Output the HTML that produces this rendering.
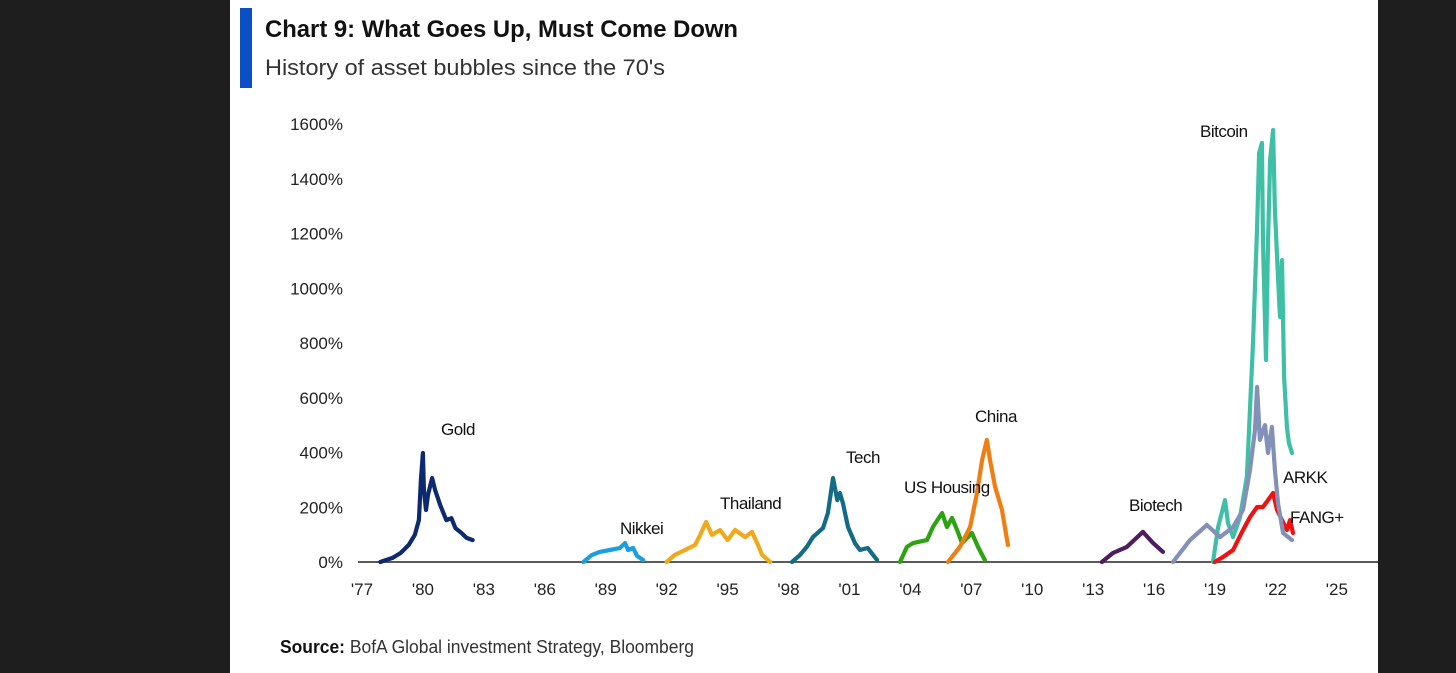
<!DOCTYPE html>
<html><head><meta charset="utf-8"><style>
html,body{margin:0;padding:0;background:#1e1e1e;width:1456px;height:673px;overflow:hidden}
#panel{position:absolute;left:230px;top:0;width:1148px;height:673px;background:#fff}
svg{position:absolute;left:0;top:0}
</style></head><body>
<div id="panel"></div>
<svg id="chart" width="1456" height="673">
<rect x="240" y="8" width="12" height="80" fill="#0a4fc4"/>
<text x="265" y="37" font-family="Liberation Sans, sans-serif" font-weight="bold" font-size="24" textLength="473" lengthAdjust="spacingAndGlyphs" fill="#111">Chart 9: What Goes Up, Must Come Down</text>
<text x="265" y="75" font-family="Liberation Sans, sans-serif" font-size="22" textLength="400" lengthAdjust="spacingAndGlyphs" fill="#333">History of asset bubbles since the 70's</text>
<text x="280" y="653" font-family="Liberation Sans, sans-serif" font-size="18" fill="#333" textLength="414" lengthAdjust="spacingAndGlyphs"><tspan font-weight="bold" fill="#111">Source:</tspan> BofA Global investment Strategy, Bloomberg</text>
<g id="axes"></g>
<g id="series"></g>
<g id="labels"></g>
</svg>
<script>
const yTicks=[0,200,400,600,800,1000,1200,1400,1600];
const xTicks=[1977,1980,1983,1986,1989,1992,1995,1998,2001,2004,2007,2010,2013,2016,2019,2022,2025];
const goldYears=[1977.9,1978.5,1978.9,1979.3,1979.6,1979.8,1979.9,1980.0,1980.05,1980.15,1980.25,1980.45,1980.6,1980.85,1981.15,1981.4,1981.6,1981.9,1982.15,1982.45];
const goldVals=[0,15,33,62,99,153,300,398,263,190,245,307,263,208,153,160,124,106,88,80];
const nikkeiYears=[1987.9,1988.3,1988.7,1989.2,1989.7,1989.95,1990.1,1990.35,1990.55,1990.85];
const nikkeiVals=[0,25,37,44,51,69,44,51,22,7];
const thaiYears=[1992.0,1992.4,1992.9,1993.4,1993.65,1993.94,1994.23,1994.63,1995.0,1995.37,1995.86,1996.2,1996.5,1996.7,1997.1];
const thaiVals=[0,26,44,62,99,146,99,117,80,117,91,110,62,26,0];
const techYears=[1998.17,1998.57,1998.9,1999.2,1999.7,1999.94,2000.19,2000.4,2000.53,2000.68,2000.93,2001.27,2001.52,2001.9,2002.36];
const techVals=[0,26,55,91,124,179,307,226,252,215,128,69,44,51,7];
const housingYears=[2003.49,2003.83,2004.13,2004.82,2005.11,2005.56,2005.8,2006.05,2006.3,2006.54,2007.03,2007.33,2007.67];
const housingVals=[0,55,69,80,128,179,128,161,117,69,106,55,7];
const chinaYears=[2005.85,2006.44,2006.94,2007.28,2007.53,2007.77,2007.92,2008.17,2008.51,2008.8];
const chinaVals=[0,55,128,252,373,446,373,274,190,62];
const biotechYears=[2013.43,2013.97,2014.66,2015.45,2015.95,2016.44];
const biotechVals=[0,33,55,110,69,37];
const arkkYears=[2016.93,2017.77,2018.6,2019.25,2019.89,2020.38,2020.72,2020.97,2021.07,2021.21,2021.46,2021.61,2021.8,2021.95,2022.1,2022.35,2022.79];
const arkkVals=[0,80,135,91,128,190,336,482,639,446,500,398,493,336,215,106,80];
const btcYears=[2018.9,2019.15,2019.49,2019.64,2019.89,2020.23,2020.57,2020.87,2021.07,2021.17,2021.31,2021.36,2021.51,2021.61,2021.71,2021.86,2021.95,2022.1,2022.2,2022.3,2022.4,2022.54,2022.64,2022.79];
const btcVals=[0,128,226,142,91,164,311,800,1224,1494,1531,1165,738,1165,1468,1578,1286,1041,895,1103,676,493,435,398];
const fangYears=[2018.99,2019.39,2019.89,2020.38,2020.72,2021.07,2021.36,2021.61,2021.86,2022.05,2022.3,2022.54,2022.69,2022.84];
const fangVals=[0,18,44,117,164,201,201,226,252,190,153,117,153,106];

const NS='http://www.w3.org/2000/svg';
function xS(yr){return 362+(yr-1977)*20.31;}
function yS(v){return 562-v*0.27375;}
function mk(tag,attrs,parent){const e=document.createElementNS(NS,tag);for(const k in attrs)e.setAttribute(k,attrs[k]);parent.appendChild(e);return e;}
const axes=document.getElementById('axes'),ser=document.getElementById('series'),lab=document.getElementById('labels');
const F='Liberation Sans, Arial, sans-serif';
yTicks.forEach(v=>{
  const t=mk('text',{x:343,y:yS(v)+6,'text-anchor':'end','font-family':F,'font-size':17,fill:'#222'},axes);
  t.textContent=v+'%';
  
  
});
xTicks.forEach(yr=>{
  const t=mk('text',{x:xS(yr),y:595,'text-anchor':'middle','font-family':F,'font-size':17,fill:'#222'},axes);
  t.textContent="'"+String(yr).slice(2);
  
  
});
const base=mk('line',{x1:358,x2:1378,y1:562,y2:562,stroke:'#5a5a5a','stroke-width':2},axes);


const series=[
 ['gold',goldYears,goldVals,'#0d2a6e'],
 ['nikkei',nikkeiYears,nikkeiVals,'#1aa0e0'],
 ['thailand',thaiYears,thaiVals,'#f0a91a'],
 ['tech',techYears,techVals,'#136b86'],
 ['us-housing',housingYears,housingVals,'#2ea312'],
 ['china',chinaYears,chinaVals,'#f07e13'],
 ['biotech',biotechYears,biotechVals,'#4d1d5e'],
 ['bitcoin',btcYears,btcVals,'#3fc0a6'],
 ['fang',fangYears,fangVals,'#f01212'],
 ['arkk',arkkYears,arkkVals,'#8390b8']
];
series.forEach(s=>{
  const d=s[1].map((yr,i)=>(i?'L':'M')+xS(yr).toFixed(1)+','+yS(s[2][i]).toFixed(1)).join(' ');
  const p=mk('path',{d:d,fill:'none',stroke:s[3],'stroke-width':4.2,'stroke-linejoin':'round','stroke-linecap':'round'},ser);
  
  
});
const labels=[['Gold',441,435],['Nikkei',620,534],['Thailand',720,509],['Tech',846,463],['US Housing',904,493],['China',975,422],['Biotech',1129,511],['Bitcoin',1200,137],['ARKK',1283,483],['FANG+',1290,523]];
labels.forEach(l=>{
  const t=mk('text',{x:l[1],y:l[2],'font-family':F,'font-size':17,fill:'#111','letter-spacing':'-0.5'},lab);
  t.textContent=l[0];
  
  
});
</script>
</body></html>
